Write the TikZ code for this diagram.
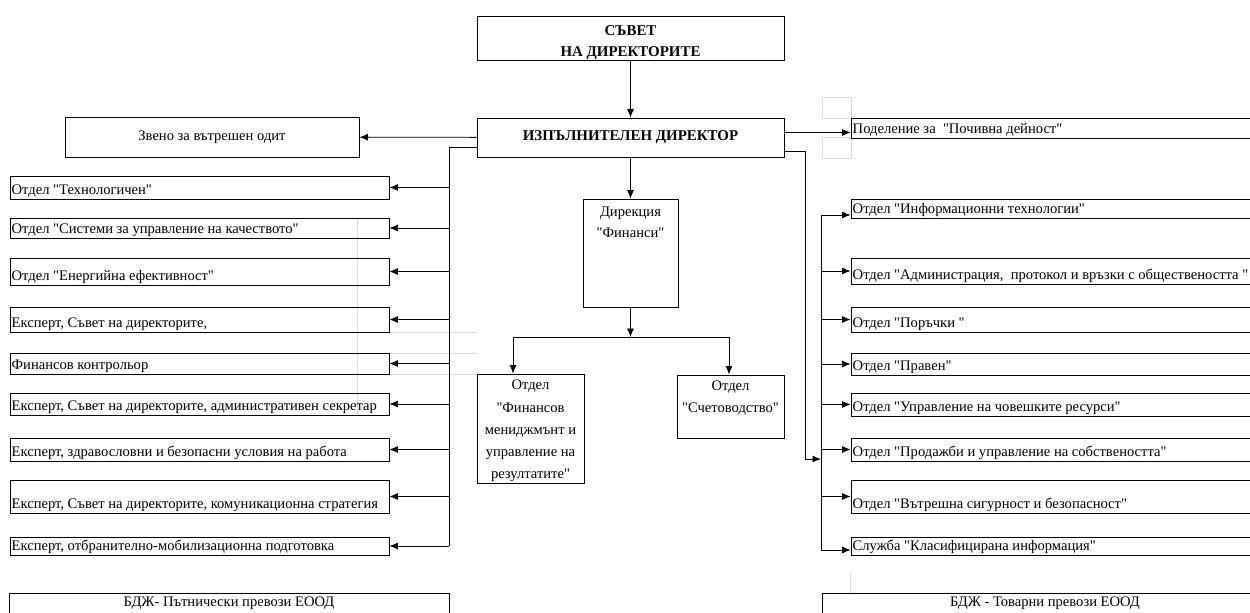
\documentclass[tikz,border=0pt]{standalone}
\usepackage{fontspec}
\setmainfont{Liberation Serif}[Ligatures=TeXOff]
\usetikzlibrary{positioning}
\usetikzlibrary{arrows.meta}

\tikzset{
  box/.style={draw, line width=0.5pt, inner sep=0pt},
  txt/.style={inner sep=1pt, font=\fontsize{8.3}{12.3}\selectfont},
  head/.style={font=\bfseries\fontsize{8.5}{12}\selectfont, align=center},
  arr/.style={-{Latex[length=1.7mm,width=1.4mm]}, line width=0.5pt},
  ln/.style={line width=0.5pt},
  faint/.style={draw=black!15, line width=0.5pt}
}

\begin{document}
\begin{tikzpicture}[x=0.02cm, y=-0.02cm]
    \useasboundingbox (0,0) rectangle (1250,612);
    \clip (0,0) rectangle (1250,612);

    % Grid traces
    \draw[faint] (822,97) rectangle (851,118);
    \draw[faint] (822,137) rectangle (851,158);
    \draw[faint] (357,218) -- (357,415);
    \foreach \y in {332,353,374} \draw[faint] (389,\y) -- (477,\y);
    \draw[faint] (850,573) -- (850,593);

    % Board and executive director
    \node[box, minimum width=6.14cm, minimum height=0.88cm] (board) at (630.5,38) {};
    \node[head] (boardt) at ([yshift=-0.09cm]board.center) {СЪВЕТ\\НА ДИРЕКТОРИТЕ};
    \node[box, head, minimum width=6.14cm, minimum height=0.78cm] (exec) at (630.5,137.5) {ИЗПЪЛНИТЕЛЕН ДИРЕКТОР};
    \node[box, txt, minimum width=5.88cm, minimum height=0.8cm] (audit) at (212,137) {Звено за вътрешен одит};

    % Finance directorate
    \node[box, minimum width=1.9cm, minimum height=2.16cm] (fin) at (630.5,253) {};
    \node[txt, align=center, anchor=north] (fint) at ([yshift=-3.5pt]fin.north) {Дирекция\\"Финанси"};
    \node[box, minimum width=2.14cm, minimum height=2.18cm] (fmgmt) at (530.5,428.5) {};
    \node[txt, font=\fontsize{8.3}{12.7}\selectfont, align=center, anchor=north] (fmgmtt) at ([yshift=-2.5pt]fmgmt.north) {Отдел\\"Финансов\\мениджмънт и\\управление на\\резултатите"};
    \node[box, minimum width=2.14cm, minimum height=1.26cm] (acc) at (730.5,406.5) {};
    \node[txt, align=center, anchor=north] (acct) at ([yshift=-2.5pt]acc.north) {Отдел\\"Счетоводство"};

    % Left column
    \node[box, minimum width=7.58cm, minimum height=0.46cm] (o1) at (199.5,187.5) {};
    \node[txt, anchor=south west] (o1t) at (o1.south west) {Отдел "Технологичен"};
    \node[box, minimum width=7.58cm, minimum height=0.40cm] (o2) at (199.5,228) {};
    \node[txt, anchor=south west] (o2t) at (o2.south west) {Отдел "Системи за управление на качеството"};
    \node[box, minimum width=7.58cm, minimum height=0.54cm] (o3) at (199.5,271.5) {};
    \node[txt, anchor=south west] (o3t) at (o3.south west) {Отдел "Енергийна ефективност"};
    \node[box, minimum width=7.58cm, minimum height=0.50cm] (o4) at (199.5,319.5) {};
    \node[txt, anchor=south west] (o4t) at (o4.south west) {Експерт, Съвет на директорите,};
    \node[box, minimum width=7.58cm, minimum height=0.42cm] (o5) at (199.5,363.5) {};
    \node[txt, anchor=south west] (o5t) at (o5.south west) {Финансов контрольор};
    \node[box, minimum width=7.58cm, minimum height=0.44cm] (o6) at (199.5,404) {};
    \node[txt, anchor=south west] (o6t) at (o6.south west) {Експерт, Съвет на директорите, административен секретар};
    \node[box, minimum width=7.58cm, minimum height=0.46cm] (o7) at (199.5,449.5) {};
    \node[txt, anchor=south west] (o7t) at (o7.south west) {Експерт, здравословни и безопасни условия на работа};
    \node[box, minimum width=7.58cm, minimum height=0.66cm] (o8) at (199.5,496.5) {};
    \node[txt, anchor=south west] (o8t) at (o8.south west) {Експерт, Съвет на директорите, комуникационна стратегия};
    \node[box, minimum width=7.58cm, minimum height=0.36cm] (o9) at (199.5,546) {};
    \node[txt, anchor=south west] (o9t) at (o9.south west) {Експерт, отбранително-мобилизационна подготовка};
    \node[box, txt, minimum width=8.8cm, minimum height=0.4cm] (pass) at (229,603) {БДЖ- Пътнически превози ЕООД};

    % Right column
    \node[box, minimum width=8.22cm, minimum height=0.40cm] (pod) at (1056.5,128) {};
    \node[txt, anchor=south west] (podt) at (pod.south west) {Поделение за~ "Почивна дейност"};
    \node[box, minimum width=8.22cm, minimum height=0.38cm] (r1) at (1056.5,208.5) {};
    \node[txt, anchor=south west] (r1t) at (r1.south west) {Отдел "Информационни технологии"};
    \node[box, minimum width=8.22cm, minimum height=0.52cm] (r2) at (1056.5,271) {};
    \node[txt, anchor=south west] (r2t) at (r2.south west) {Отдел "Администрация,~ протокол и връзки с обществеността "};
    \node[box, minimum width=8.22cm, minimum height=0.50cm] (r3) at (1056.5,319.5) {};
    \node[txt, anchor=south west] (r3t) at (r3.south west) {Отдел "Поръчки "};
    \node[box, minimum width=8.22cm, minimum height=0.44cm] (r4) at (1056.5,364) {};
    \node[txt, anchor=south west] (r4t) at (r4.south west) {Отдел "Правен"};
    \node[box, minimum width=8.22cm, minimum height=0.46cm] (r5) at (1056.5,404.5) {};
    \node[txt, anchor=south west] (r5t) at (r5.south west) {Отдел "Управление на човешките ресурси"};
    \node[box, minimum width=8.22cm, minimum height=0.46cm] (r6) at (1056.5,449.5) {};
    \node[txt, anchor=south west] (r6t) at (r6.south west) {Отдел "Продажби и управление на собствеността"};
    \node[box, minimum width=8.22cm, minimum height=0.66cm] (r7) at (1056.5,496.5) {};
    \node[txt, anchor=south west] (r7t) at (r7.south west) {Отдел "Вътрешна сигурност и безопасност"};
    \node[box, minimum width=8.22cm, minimum height=0.36cm] (r8) at (1056.5,546) {};
    \node[txt, anchor=south west] (r8t) at (r8.south west) {Служба "Класифицирана информация"};
    \node[box, txt, minimum width=8.92cm, minimum height=0.4cm] (cargo) at (1045,603) {БДЖ - Товарни превози ЕООД};

    % Top connectors
    \draw[arr] (board) -- (exec);
    \draw[arr] (exec) -- (audit);
    \draw[arr] ([yshift=0.1cm]exec.east) -- ([yshift=0.1cm]exec.east -| pod.west);
    \draw[arr] (exec) -- (fin);

    % Finance split
    \coordinate (fsplit) at (630.5,337);
    \coordinate (fl) at (513,337);
    \coordinate (fr) at (729,337);
    \draw[arr] (fin) -- (fsplit);
    \draw[ln] (fl) -- (fr);
    \draw[arr] (fl) -- (fl |- fmgmt.north);
    \draw[arr] (fr) -- (fr |- acc.north);

    % Left trunk
    \coordinate (ltop) at (449,147.5);
    \coordinate (lbot) at (449,546);
    \draw[ln] (exec.west |- ltop) -- (ltop) -- (lbot);
    \foreach \i in {1,...,8} \draw[arr] (ltop |- o\i) -- (o\i);
    \draw[arr] (lbot) -- (o9);

    % Right trunks
    \coordinate (rtop) at (805,151.5);
    \coordinate (rbend) at (805,459);
    \coordinate (rjoin) at (821,459);
    \coordinate (r2top) at (821,215);
    \coordinate (r2bot) at (821,550);
    \draw[ln] (exec.east |- rtop) -- (rtop) -- (rbend);
    \draw[arr] (rbend) -- (rjoin);
    \draw[ln] (r2top) -- (r2bot);
    \draw[arr] (r2top) -- (r2top -| r1.west);
    \foreach \i in {2,...,7} \draw[arr] (r2top |- r\i) -- (r\i);
    \draw[arr] (r2bot) -- (r2bot -| r8.west);
\end{tikzpicture}
\end{document}
